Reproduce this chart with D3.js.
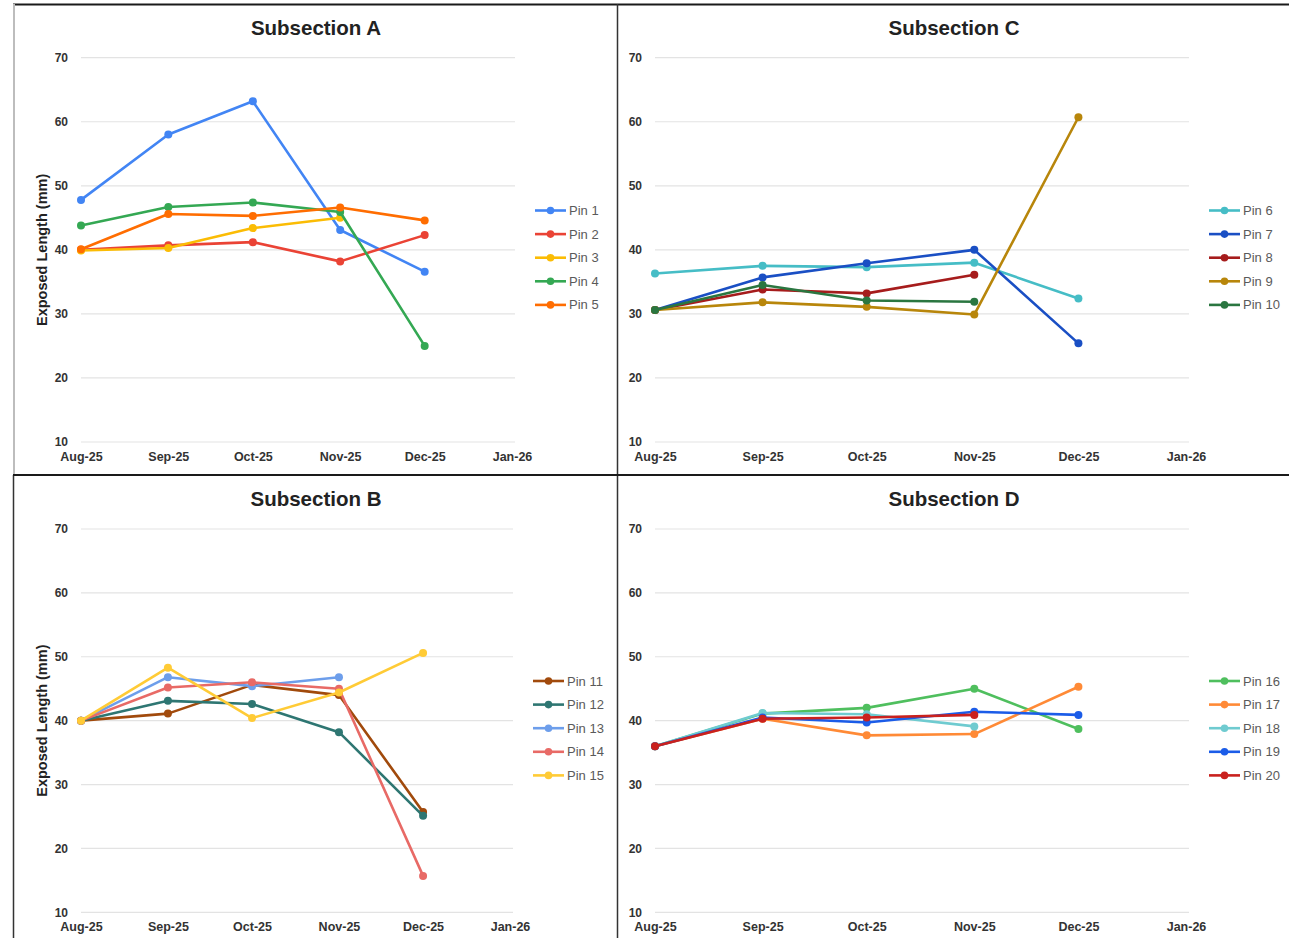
<!DOCTYPE html>
<html>
<head>
<meta charset="utf-8">
<script src="https://cdn.jsdelivr.net/npm/d3@7"></script>
<style>
  html, body { margin: 0; padding: 0; background: #fff; }
  svg { display: block; }
  text { font-family: "Liberation Sans", Arial, sans-serif; }
</style>
</head>
<body>
<svg id="chart" width="1294" height="938"></svg>
<script>
// ---------------- data ----------------
const months = ["2025-08-01", "2025-09-01", "2025-10-01", "2025-11-01", "2025-12-01"];
const xTickMonths = ["2025-08-01", "2025-09-01", "2025-10-01", "2025-11-01", "2025-12-01", "2026-01-01"];
const yTicks = [10, 20, 30, 40, 50, 60, 70];

const titleA = "Subsection A";
const pinsA = ["Pin 1", "Pin 2", "Pin 3", "Pin 4", "Pin 5"];
const valuesA = [
  [47.8, 58.0, 63.2, 43.1, 36.6],
  [40.0, 40.7, 41.2, 38.2, 42.3],
  [39.9, 40.3, 43.4, 45.0, null],
  [43.8, 46.7, 47.4, 45.9, 25.0],
  [40.1, 45.6, 45.3, 46.6, 44.6]
];
const colorsA = ["#4285f4", "#ea4335", "#fbbc04", "#34a853", "#ff6d01"];

const titleC = "Subsection C";
const pinsC = ["Pin 6", "Pin 7", "Pin 8", "Pin 9", "Pin 10"];
const valuesC = [
  [36.3, 37.5, 37.3, 38.0, 32.4],
  [30.6, 35.7, 37.9, 40.0, 25.4],
  [30.6, 33.8, 33.2, 36.1, null],
  [30.6, 31.8, 31.1, 29.9, 60.7],
  [30.6, 34.5, 32.1, 31.9, null]
];
const colorsC = ["#46bdc6", "#1a4fc4", "#a61c1c", "#b8860b", "#2a7640"];

const titleB = "Subsection B";
const pinsB = ["Pin 11", "Pin 12", "Pin 13", "Pin 14", "Pin 15"];
const valuesB = [
  [40.0, 41.1, 45.6, 44.0, 25.7],
  [40.0, 43.1, 42.6, 38.2, 25.1],
  [40.0, 46.8, 45.4, 46.8, null],
  [40.0, 45.2, 46.0, 45.0, 15.7],
  [40.0, 48.3, 40.4, 44.4, 50.6]
];
const colorsB = ["#a14a0c", "#2e7672", "#6d9eeb", "#e86a66", "#ffcb36"];

const titleD = "Subsection D";
const pinsD = ["Pin 16", "Pin 17", "Pin 18", "Pin 19", "Pin 20"];
const valuesD = [
  [36.0, 41.1, 42.0, 45.0, 38.7],
  [36.0, 40.3, 37.7, 37.9, 45.3],
  [36.0, 41.2, 41.0, 39.1, null],
  [36.0, 40.5, 39.7, 41.4, 40.9],
  [36.0, 40.3, 40.5, 40.9, null]
];
const colorsD = ["#4fbf5e", "#ff8a36", "#6fcbd0", "#1b5ce8", "#c9211e"];

// ---------------- layout ----------------
const parse = d3.timeParse("%Y-%m-%d");
const fmt = d3.timeFormat("%b-%y");
const svg = d3.select("#chart");

const panels = [
  { title: titleA, pins: pinsA, values: valuesA, colors: colorsA,
    box: [13, 4, 617, 475], plot: [81, 512, 57.7, 442], yTitle: true, legendX: 535 },
  { title: titleC, pins: pinsC, values: valuesC, colors: colorsC,
    box: [617, 4, 1289, 475], plot: [655, 1186, 57.7, 442], yTitle: false, legendX: 1209 },
  { title: titleB, pins: pinsB, values: valuesB, colors: colorsB,
    box: [13, 475, 617, 938], plot: [81, 510, 529, 912.3], yTitle: true, legendX: 533 },
  { title: titleD, pins: pinsD, values: valuesD, colors: colorsD,
    box: [617, 475, 1289, 938], plot: [655, 1186, 529, 912.3], yTitle: false, legendX: 1209 }
];

panels.forEach(p => {
  const [x0, x1, yTop, yBot] = p.plot;
  const x = d3.scaleTime()
    .domain([parse(xTickMonths[0]), parse(xTickMonths[xTickMonths.length - 1])])
    .range([x0, x1]);
  const y = d3.scaleLinear().domain([10, 70]).range([yBot, yTop]);
  const g = svg.append("g");

  // gridlines
  g.append("g").selectAll("line").data(yTicks).join("line")
    .attr("x1", x0).attr("x2", x1 + 3)
    .attr("y1", d => y(d)).attr("y2", d => y(d))
    .attr("stroke", "#e3e3e3").attr("stroke-width", 1.2);

  // y axis labels
  const yAxis = d3.axisLeft(y).tickValues(yTicks).tickSize(0).tickPadding(13);
  const ya = g.append("g").attr("transform", `translate(${x0},0)`).call(yAxis);
  ya.select(".domain").remove();
  ya.selectAll("text").attr("font-size", 12).attr("font-weight", "bold")
    .attr("fill", "#333").attr("font-family", "'Liberation Sans', Arial, sans-serif");

  // x axis labels
  const xAxis = d3.axisBottom(x).tickValues(xTickMonths.map(parse)).tickFormat(fmt)
    .tickSize(0).tickPadding(10);
  const xa = g.append("g").attr("transform", `translate(0,${yBot})`).call(xAxis);
  xa.select(".domain").remove();
  xa.selectAll("text").attr("font-size", 12.5).attr("font-weight", "bold")
    .attr("fill", "#333").attr("font-family", "'Liberation Sans', Arial, sans-serif");

  // title
  g.append("text")
    .attr("x", (p.box[0] + p.box[2]) / 2 + 1)
    .attr("y", p.box[1] + 31)
    .attr("text-anchor", "middle")
    .attr("font-size", 20.5).attr("font-weight", "bold").attr("fill", "#222")
    .text(p.title);

  // y title
  if (p.yTitle) {
    const cy = (yTop + yBot) / 2;
    g.append("text")
      .attr("transform", `translate(47,${cy}) rotate(-90)`)
      .attr("text-anchor", "middle")
      .attr("font-size", 14.5).attr("font-weight", "bold").attr("fill", "#222")
      .text("Exposed Length (mm)");
  }

  // series
  const line = d3.line()
    .defined(d => d.v != null)
    .x(d => x(d.t)).y(d => y(d.v));
  p.values.forEach((vals, i) => {
    const pts = vals.map((v, j) => ({ t: parse(months[j]), v }));
    g.append("path").datum(pts)
      .attr("d", line).attr("fill", "none")
      .attr("stroke", p.colors[i]).attr("stroke-width", 2.6)
      .attr("stroke-linejoin", "round");
    g.append("g").selectAll("circle").data(pts.filter(d => d.v != null)).join("circle")
      .attr("cx", d => x(d.t)).attr("cy", d => y(d.v)).attr("r", 4)
      .attr("fill", p.colors[i]);
  });

  // legend
  const ly0 = (p.box[1] === 4) ? 210.5 : 681;
  const leg = g.append("g");
  p.pins.forEach((name, i) => {
    const ly = ly0 + i * 23.6;
    leg.append("line").attr("x1", p.legendX).attr("x2", p.legendX + 31)
      .attr("y1", ly).attr("y2", ly)
      .attr("stroke", p.colors[i]).attr("stroke-width", 2.6);
    leg.append("circle").attr("cx", p.legendX + 15.5).attr("cy", ly).attr("r", 3.8)
      .attr("fill", p.colors[i]);
    leg.append("text").attr("x", p.legendX + 34).attr("y", ly + 4.5)
      .attr("font-size", 13).attr("fill", "#5a5a5a")
      .attr("font-family", "Roboto, Arial, sans-serif")
      .text(name);
  });
});

// frame lines
svg.append("line").attr("x1", 13).attr("x2", 1289).attr("y1", 4.5).attr("y2", 4.5)
  .attr("stroke", "#1a1a1a").attr("stroke-width", 2);
svg.append("line").attr("x1", 14).attr("x2", 14).attr("y1", 4).attr("y2", 475)
  .attr("stroke", "#bdbdbd").attr("stroke-width", 2);
svg.append("line").attr("x1", 13.5).attr("x2", 13.5).attr("y1", 475).attr("y2", 938)
  .attr("stroke", "#333").attr("stroke-width", 1.5);
svg.append("line").attr("x1", 617.5).attr("x2", 617.5).attr("y1", 4).attr("y2", 938)
  .attr("stroke", "#333").attr("stroke-width", 1.5);
svg.append("line").attr("x1", 13).attr("x2", 1289).attr("y1", 475).attr("y2", 475)
  .attr("stroke", "#1a1a1a").attr("stroke-width", 2);
</script>
</body>
</html>
